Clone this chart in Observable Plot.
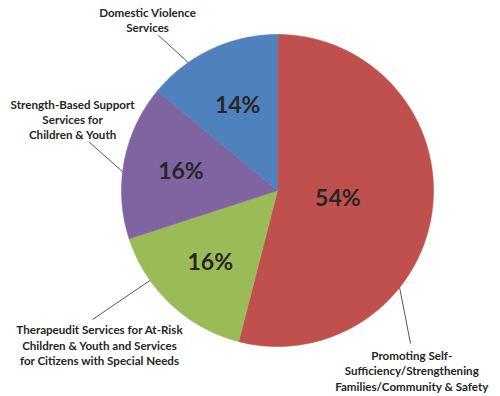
<!DOCTYPE html>
<html>
<head>
<meta charset="utf-8">
<script src="https://cdn.jsdelivr.net/npm/d3@7"></script>
<script src="https://cdn.jsdelivr.net/npm/@observablehq/plot@0.6"></script>
<style>
  html, body { margin: 0; padding: 0; background: #fff; }
</style>
</head>
<body>
<div id="chart"></div>
<script>
// ---- data ----
const categories = [
  "Promoting Self-\nSufficiency/Strengthening\nFamilies/Community & Safety",
  "Therapeudit Services for At-Risk\nChildren & Youth and Services\nfor Citizens with Special Needs",
  "Strength-Based Support\nServices for\nChildren & Youth",
  "Domestic Violence\nServices"
];
const values = [54, 16, 16, 14];
const colors = ["#C0504D", "#9BBB59", "#8064A2", "#4F81BD"];

// ---- layout (polar, in pie radii; angle in degrees clockwise from 12 o'clock) ----
const pctRadius = [0.39, 0.63, 0.63, 0.6];
const leaderInner = [[128.5, 1.0], [234.8, 1.0], [276.9, 1.0], [325.1, 1.0]];
const leaderOuter = [[139, 1.30], [235.1, 1.446], [284.5, 1.25], [322.5, 1.253]];
const labelPos   = [[143.3, 1.44], [229.1, 1.51], [289.1, 1.39], [322.7, 1.374]];

const rad = d => d * Math.PI / 180;
const px = (deg, r) => r * Math.sin(rad(deg));
const py = (deg, r) => r * Math.cos(rad(deg));

const arcs = d3.pie().sort(null).value(d => d.value)(
  values.map((v, i) => ({name: categories[i], value: v, i}))
);

// slice outlines (center + arc vertices)
const outline = [];
for (const a of arcs) {
  const n = Math.max(2, Math.ceil((a.endAngle - a.startAngle) / (Math.PI / 360)));
  outline.push({name: a.data.name, x: 0, y: 0});
  for (let k = 0; k <= n; k++) {
    const t = a.startAngle + (a.endAngle - a.startAngle) * k / n;
    outline.push({name: a.data.name, x: Math.sin(t), y: Math.cos(t)});
  }
  outline.push({name: a.data.name, x: 0, y: 0});
}

const pct = arcs.map(a => {
  const mid = (a.startAngle + a.endAngle) / 2;
  const r = pctRadius[a.data.i];
  return {text: a.data.value + "%", x: r * Math.sin(mid), y: r * Math.cos(mid)};
});

const leaders = arcs.map(a => {
  const i = a.data.i;
  return {
    x1: px(...leaderInner[i]), y1: py(...leaderInner[i]),
    x2: px(...leaderOuter[i]), y2: py(...leaderOuter[i])
  };
});

const outerLabels = arcs.map(a => {
  const i = a.data.i;
  return {text: a.data.name, x: px(...labelPos[i]), y: py(...labelPos[i])};
});

const chart = Plot.plot({
  width: 500,
  height: 396,
  marginLeft: 121,
  marginRight: 67,
  marginTop: 34,
  marginBottom: 50,
  x: {domain: [-1, 1], axis: null},
  y: {domain: [-1, 1], axis: null},
  color: {domain: categories, range: colors},
  style: {fontFamily: "Lato, 'Open Sans', sans-serif", background: "#fff", overflow: "visible"},
  marks: [
    Plot.line(outline, {x: "x", y: "y", z: "name", fill: "name", stroke: "name", strokeWidth: 0.6, curve: "linear"}),
    Plot.text(pct, {x: "x", y: "y", text: "text", fontSize: 23, fontWeight: "bold", fill: "#262626"}),
    Plot.link(leaders, {x1: "x1", y1: "y1", x2: "x2", y2: "y2", stroke: "#444", strokeWidth: 0.9}),
    Plot.text(outerLabels, {x: "x", y: "y", text: "text", fontSize: 11.6, fontWeight: "bold", lineHeight: 1.3, fill: "#262626", textAnchor: "middle"})
  ]
});
document.getElementById("chart").appendChild(chart);
</script>
</body>
</html>
